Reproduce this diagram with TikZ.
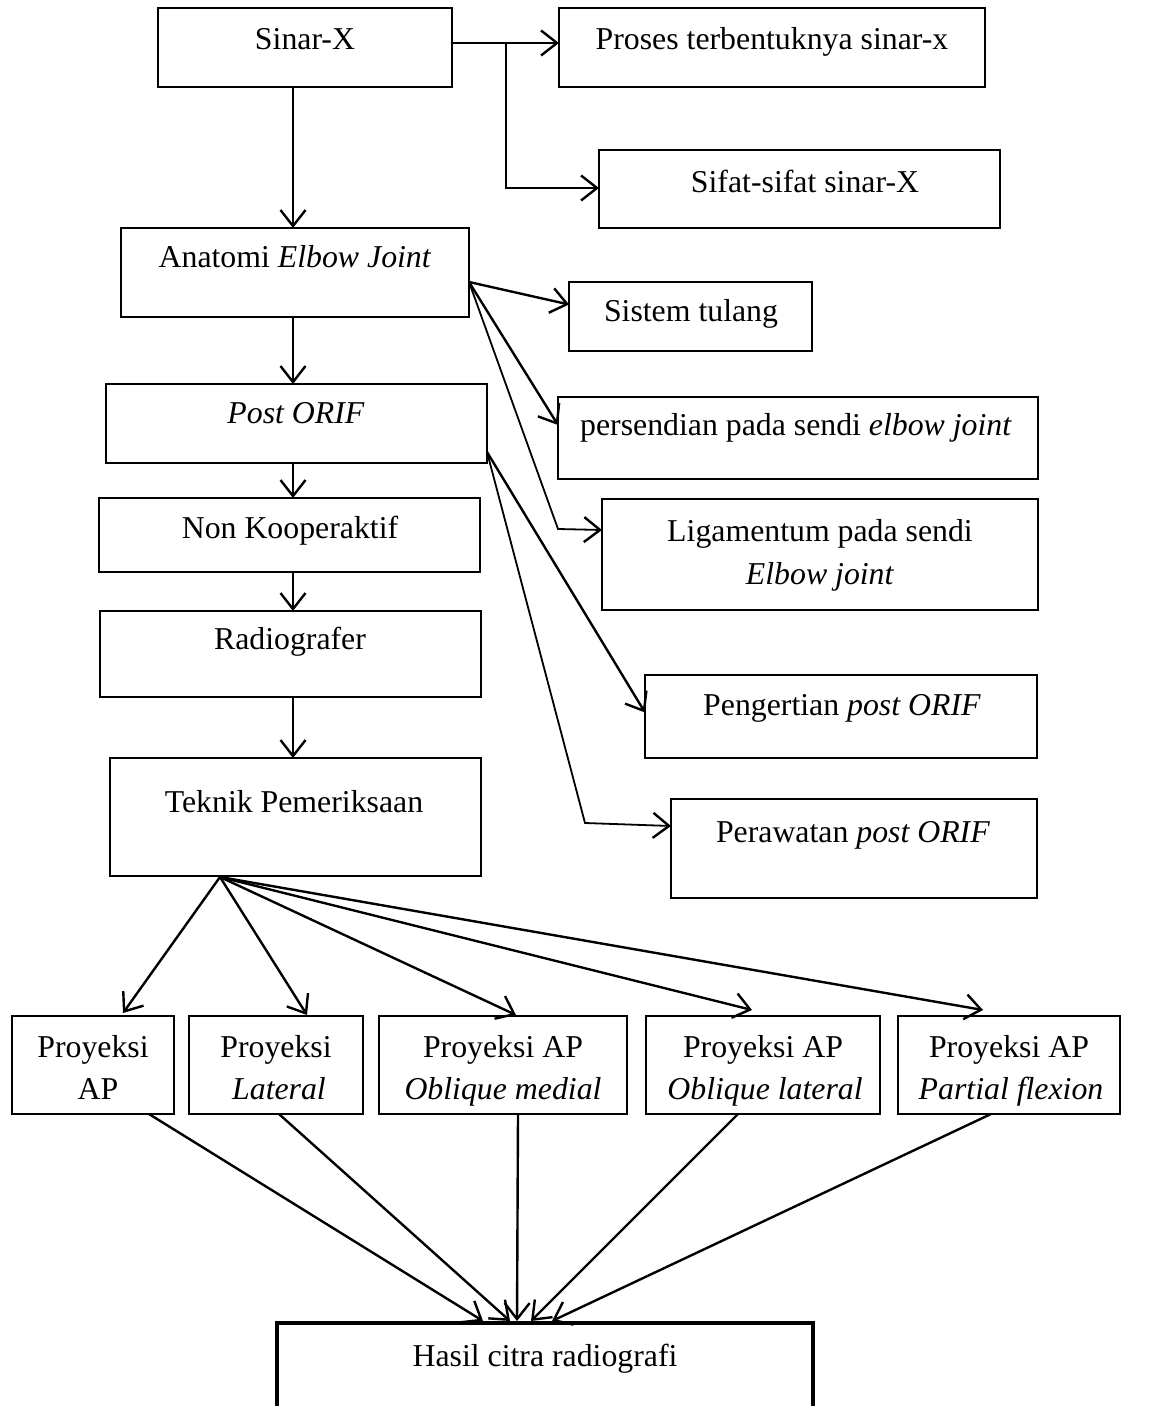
\documentclass[tikz,border=0pt]{standalone}
\usepackage{fontspec}
\setmainfont{Liberation Serif}
\usetikzlibrary{arrows.meta,fit,calc}
\begin{document}
\begin{tikzpicture}[x=0.5pt,y=-0.5pt,
  box/.style={draw,line width=1.1pt,inner sep=0pt,outer sep=0pt},
  hbox/.style={draw,line width=2.3pt,inner sep=0pt,outer sep=0pt},
  txt/.style={inner sep=0pt,anchor=base,font=\fontsize{15.9}{21}\selectfont},
  arr/.style={line width=1.2pt,-{Straight Barb[length=8pt,width=12.5pt,line width=1.2pt]}},
  tarr/.style={arr,line width=0.9pt},
  ln/.style={line width=1.2pt}]
\useasboundingbox (0,0) rectangle (1152,1406);
\clip (0,0) rectangle (1152,1406);
% boxes
\node[box,fit={(158,8)(452,87)}] (sinar) {};
\node[box,fit={(559,8)(985,87)}] (proses) {};
\node[box,fit={(599,150)(1000,228)}] (sifat) {};
\node[box,fit={(121,228)(469,317)}] (anatomi) {};
\node[box,fit={(569,282)(812,351)}] (sistem) {};
\node[box,fit={(106,384)(487,463)}] (post) {};
\node[box,fit={(558,397)(1038,479)}] (persendian) {};
\node[box,fit={(99,498)(480,572)}] (non) {};
\node[box,fit={(602,499)(1038,610)}] (liga) {};
\node[box,fit={(100,611)(481,697)}] (radio) {};
\node[box,fit={(645,675)(1037,758)}] (pengertian) {};
\node[box,fit={(110,758)(481,876)}] (teknik) {};
\node[box,fit={(671,799)(1037,898)}] (perawatan) {};
\node[box,fit={(12,1016)(174,1114)}] (p1) {};
\node[box,fit={(189,1016)(363,1114)}] (p2) {};
\node[box,fit={(379,1016)(627,1114)}] (p3) {};
\node[box,fit={(646,1016)(880,1114)}] (p4) {};
\node[box,fit={(898,1016)(1120,1114)}] (p5) {};
\node[hbox,fit={(277,1323)(813,1460)}] (hasil) {};
% texts
\node[txt] (sinar-t) at (305,50) {Sinar-X};
\node[txt] (proses-t) at (772,50) {Proses terbentuknya sinar-x};
\node[txt] (sifat-t) at (805,193) {Sifat-sifat sinar-X};
\node[txt] (anatomi-t) at (295,268) {Anatomi \textit{Elbow Joint}};
\node[txt] (sistem-t) at (691,322) {Sistem tulang};
\node[txt] (persendian-t) at (796,436) {persendian pada sendi \textit{elbow joint}};
\node[txt] (post-t) at (296,423) {\textit{Post ORIF}};
\node[txt] (non-t) at (290,538) {Non Kooperaktif};
\node[txt] (liga-t1) at (820,541) {Ligamentum pada sendi};
\node[txt] (liga-t2) at (820,584) {\textit{Elbow joint}};
\node[txt] (radio-t) at (290,649) {Radiografer};
\node[txt] (pengertian-t) at (842,715) {Pengertian \textit{post ORIF}};
\node[txt] (teknik-t) at (294,812) {Teknik Pemeriksaan};
\node[txt] (perawatan-t) at (853,842) {Perawatan \textit{post ORIF}};
\node[txt] (p1-t1) at (93,1057) {Proyeksi};
\node[txt] (p1-t2) at (98,1099) {AP};
\node[txt] (p2-t1) at (276,1057) {Proyeksi};
\node[txt] (p2-t2) at (279,1099) {\textit{Lateral}};
\node[txt] (p3-t1) at (503,1057) {Proyeksi AP};
\node[txt] (p3-t2) at (503,1099) {\textit{Oblique medial}};
\node[txt] (p4-t1) at (763,1057) {Proyeksi AP};
\node[txt] (p4-t2) at (765,1099) {\textit{Oblique lateral}};
\node[txt] (p5-t1) at (1009,1057) {Proyeksi AP};
\node[txt] (p5-t2) at (1011,1099) {\textit{Partial flexion}};
\node[txt] (hasil-t) at (545,1366) {Hasil citra radiografi};
% main column
\coordinate (col) at (293,0);
\draw[arr] (sinar.south -| col) -- (anatomi.north -| col);
\draw[arr] (anatomi.south -| col) -- (post.north -| col);
\draw[arr] (post.south -| col) -- (non.north -| col);
\draw[arr] (non.south -| col) -- (radio.north -| col);
\draw[arr] (radio.south -| col) -- (teknik.north -| col);
% Sinar-X branches
\coordinate (yl) at (0,43);
\coordinate (br) at (506,43);
\coordinate (yb) at (0,188);
\draw[arr] (sinar.east |- yl) -- (proses.west |- yl);
\draw[arr] (br) |- (sifat.west |- yb);
% Anatomi branches
\coordinate (aout) at (anatomi.east |- 0,282);
\coordinate (lb) at (558,529);
\draw[arr] (aout) -- ($(sistem.west)+(0,-12)$);
\draw[arr] (aout) -- ($(persendian.west)+(0,-13)$);
\draw[tarr] (aout) -- (lb) -- (liga.west |- 0,530);
% Post ORIF branches
\coordinate (pout) at (post.east |- 0,452);
\coordinate (pb) at (585,823);
\draw[arr] (pout) -- ($(pengertian.west)+(0,-4)$);
\draw[tarr] (pout) -- (pb) -- (perawatan.west |- 0,826);
% fan
\coordinate (fan) at (220,877);
\draw[arr] (fan) -- ($(p1.north)+(30,-3)$);
\draw[arr] (fan) -- ($(p2.north)+(31,-1)$);
\draw[arr] (fan) -- ($(p3.north)+(13,-1)$);
\draw[arr] (fan) -- ($(p4.north)+(-11,-6)$);
\draw[arr] (fan) -- ($(p5.north)+(-26,-6)$);
% to result
\draw[arr] ($(p1.south)+(56,0)$) -- ($(hasil.north)+(-62,-2)$);
\draw[arr] ($(p2.south)+(3,0)$) -- ($(hasil.north)+(-35,-2)$);
\draw[arr] ($(p3.south)+(15,0)$) -- ($(hasil.north)+(-28,-2)$);
\draw[arr] ($(p4.south)+(-25,0)$) -- ($(hasil.north)+(-14,-2)$);
\draw[arr] ($(p5.south)+(-18,0)$) -- ($(hasil.north)+(7,-2)$);
\end{tikzpicture}
\end{document}
